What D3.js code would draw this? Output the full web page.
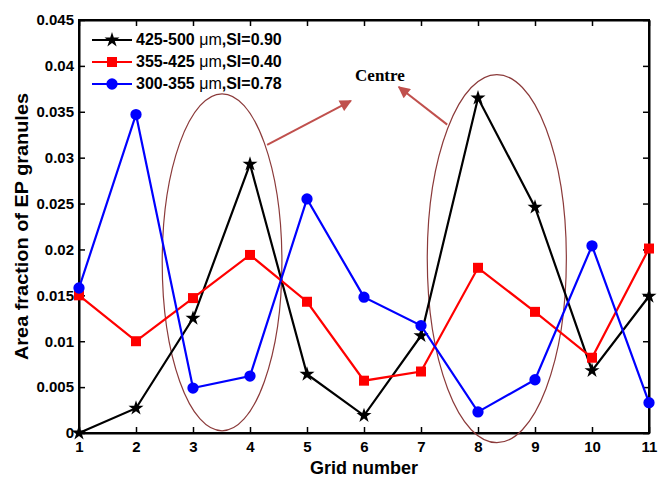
<!DOCTYPE html>
<html lang="en">
<head>
    <meta charset="UTF-8">
    <title>Area fraction of EP granules</title>
    <script src="https://d3js.org/d3.v7.min.js"></script>
    <style>
        body {
            margin: 0;
            padding: 0;
            background-color: #ffffff;
        }
        #chart text {
            font-family: 'Liberation Sans', Arial, sans-serif;
            font-weight: bold;
        }
    </style>
</head>
<body>
    <div id="chart"></div>

    <script>
        // data
        const grids = [1, 2, 3, 4, 5, 6, 7, 8, 9, 10, 11];
        const coarse = [0, 0.0027, 0.0125, 0.0293, 0.0064, 0.0019, 0.0106, 0.0365, 0.0246, 0.0068, 0.0149];
        const medium = [0.0150, 0.0100, 0.0147, 0.0194, 0.0143, 0.0057, 0.0067, 0.0180, 0.0132, 0.0082, 0.0201];
        const fine = [0.0158, 0.0347, 0.0049, 0.0062, 0.0255, 0.0148, 0.0117, 0.0023, 0.0058, 0.0204, 0.0033];
        const seriesNames = ["425-500", "355-425", "300-355"];
        const seriesSI = ["0.90", "0.40", "0.78"];
        const yTicks = [0, 0.005, 0.01, 0.015, 0.02, 0.025, 0.03, 0.035, 0.04, 0.045];

        // annotation: ellipses around the centre grids, arrows to the label
        const ellipses = [
            { cx: 3.51, cy: 0.0186, rx: 1.05, ry: 0.01836 },
            { cx: 8.33, cy: 0.0190, rx: 1.22, ry: 0.02005 }
        ];
        const arrows = [
            { x1: 4.30, y1: 0.0314, x2: 5.77, y2: 0.0362 },
            { x1: 7.46, y1: 0.0336, x2: 6.61, y2: 0.0377 }
        ];

        const width = 659, height = 478;
        const margin = { top: 20, right: 10, bottom: 45, left: 79 };

        const svg = d3.select("#chart").append("svg")
            .attr("width", width)
            .attr("height", height);

        const x = d3.scaleLinear().domain([1, 11]).range([margin.left, width - margin.right]);
        const y = d3.scaleLinear().domain([0, 0.045]).range([height - margin.bottom, margin.top]);

        const series = [
            { values: coarse, color: "#000000", symbol: "star" },
            { values: medium, color: "#ff0000", symbol: "square" },
            { values: fine, color: "#0000ff", symbol: "circle" }
        ];

        // axes box with inward ticks
        const tickLen = 6;
        svg.append("g")
            .attr("transform", `translate(0,${y(0)})`)
            .call(d3.axisBottom(x).tickValues(grids).tickSizeInner(-tickLen).tickSizeOuter(0).tickPadding(8))
            .call(g => g.selectAll("text").attr("font-size", 15).attr("fill", "#000"));
        svg.append("g")
            .attr("transform", `translate(${x(1)},0)`)
            .call(d3.axisLeft(y).tickValues(yTicks).tickFormat(d => d === 0 ? "0" : d3.format("")(+d.toFixed(3))).tickSizeInner(-tickLen).tickSizeOuter(0).tickPadding(5))
            .call(g => g.selectAll("text").attr("font-size", 15).attr("fill", "#000"));
        svg.append("g")
            .attr("transform", `translate(0,${y(0.045)})`)
            .call(d3.axisTop(x).tickValues(grids).tickSizeInner(-tickLen).tickSizeOuter(0).tickFormat(""));
        svg.append("g")
            .attr("transform", `translate(${x(11)},0)`)
            .call(d3.axisRight(y).tickValues(yTicks).tickSizeInner(-tickLen).tickSizeOuter(0).tickFormat(""));
        svg.selectAll(".domain").attr("stroke", "#000").attr("stroke-width", 2);
        svg.selectAll(".tick line").attr("stroke", "#000").attr("stroke-width", 1.5);
        svg.append("rect")
            .attr("x", x(1)).attr("y", y(0.045))
            .attr("width", x(11) - x(1)).attr("height", y(0) - y(0.045))
            .attr("fill", "none").attr("stroke", "#000").attr("stroke-width", 2);

        // axis titles
        svg.append("text")
            .attr("x", (x(1) + x(11)) / 2)
            .attr("y", 474)
            .attr("text-anchor", "middle")
            .attr("font-size", 18)
            .text("Grid number");
        svg.append("text")
            .attr("transform", `translate(28,${(y(0) + y(0.045)) / 2}) rotate(-90)`)
            .attr("text-anchor", "middle")
            .attr("font-size", 18)
            .attr("textLength", 267)
            .attr("lengthAdjust", "spacingAndGlyphs")
            .text("Area fraction of EP granules");

        // ellipses and arrows
        const brown = "#8b3a3a";
        svg.append("g").selectAll("ellipse")
            .data(ellipses)
            .join("ellipse")
            .attr("cx", d => x(d.cx))
            .attr("cy", d => y(d.cy))
            .attr("rx", d => x(d.cx + d.rx) - x(d.cx))
            .attr("ry", d => y(0) - y(d.ry))
            .attr("fill", "none")
            .attr("stroke", brown)
            .attr("stroke-width", 1.2);

        svg.append("defs").append("marker")
            .attr("id", "head")
            .attr("viewBox", "0 0 10 10")
            .attr("refX", 9).attr("refY", 5)
            .attr("markerWidth", 7).attr("markerHeight", 6)
            .attr("markerUnits", "strokeWidth")
            .attr("orient", "auto")
            .append("path")
            .attr("d", "M0,0L10,5L0,10Z")
            .attr("fill", "#c0504d");

        svg.append("g").selectAll("line")
            .data(arrows)
            .join("line")
            .attr("x1", d => x(d.x1)).attr("y1", d => y(d.y1))
            .attr("x2", d => x(d.x2)).attr("y2", d => y(d.y2))
            .attr("stroke", "#c0504d")
            .attr("stroke-width", 2)
            .attr("marker-end", "url(#head)");

        svg.append("text")
            .attr("x", x(6.28))
            .attr("y", y(0.03835))
            .attr("text-anchor", "middle")
            .attr("font-size", 17)
            .style("font-family", "'Liberation Serif', 'Times New Roman', serif")
            .text("Centre");

        // series lines and markers
        const line = d3.line().x((d, i) => x(grids[i])).y(d => y(d));
        const symbols = {
            star: d3.symbol().type(d3.symbolStar).size(70),
            square: d3.symbol().type(d3.symbolSquare).size(100),
            circle: d3.symbol().type(d3.symbolCircle).size(100)
        };

        series.forEach(s => {
            svg.append("path")
                .datum(s.values)
                .attr("d", line)
                .attr("fill", "none")
                .attr("stroke", s.color)
                .attr("stroke-width", 2.2);
            svg.append("g").selectAll("path")
                .data(s.values)
                .join("path")
                .attr("transform", (d, i) => `translate(${x(grids[i])},${y(d)})`)
                .attr("d", symbols[s.symbol]())
                .attr("fill", s.color);
        });

        // legend
        const legend = svg.append("g");
        series.forEach((s, i) => {
            const ly = 40 + i * 22;
            legend.append("line")
                .attr("x1", 92).attr("x2", 132)
                .attr("y1", ly).attr("y2", ly)
                .attr("stroke", s.color).attr("stroke-width", 2.2);
            legend.append("path")
                .attr("transform", `translate(112,${ly})`)
                .attr("d", symbols[s.symbol]())
                .attr("fill", s.color);
            const t = legend.append("text")
                .attr("x", 136).attr("y", ly + 5)
                .attr("font-size", 16);
            t.append("tspan").text(seriesNames[i] + " ");
            t.append("tspan").attr("font-weight", "normal").text("\u03bcm");
            t.append("tspan").text(",SI=" + seriesSI[i]);
        });
    </script>
</body>
</html>
